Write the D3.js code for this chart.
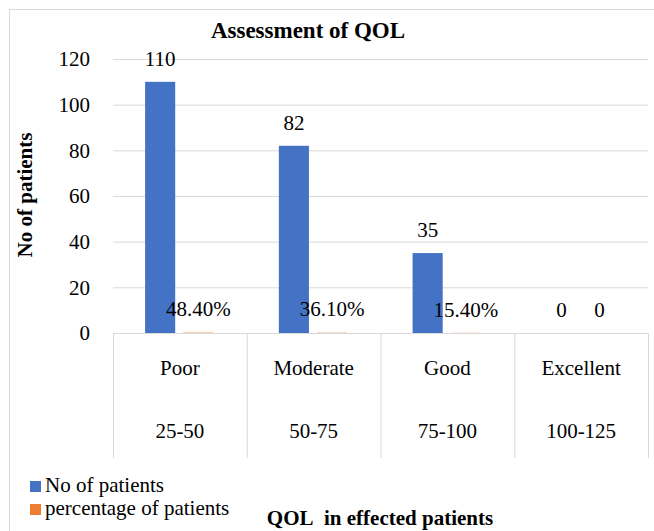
<!DOCTYPE html>
<html>
<head>
<meta charset="utf-8">
<script src="https://cdn.jsdelivr.net/npm/d3@7"></script>
</head>
<body style="margin:0">
<svg id="chart" width="654" height="531" style="display:block"></svg>
<script>
// chart data
const categories = ["Poor", "Moderate", "Good", "Excellent"];
const ranges = ["25-50", "50-75", "75-100", "100-125"];
const patients = [110, 82, 35, 0];
const percentages = [0.484, 0.361, 0.154, 0];
const yTicks = [0, 20, 40, 60, 80, 100, 120];
const seriesNames = ["No of patients", "percentage of patients"];
const seriesColors = ["#4472C4", "#ED7D31"];

const svg = d3.select("#chart").attr("font-family", "Liberation Serif");
const plotLeft = 113, plotRight = 648, plotTop = 59, base = 333;

// outer chart border
svg.append("rect")
  .attr("x", 9.5).attr("y", 9.5)
  .attr("width", 700).attr("height", 600)
  .attr("fill", "none").attr("stroke", "#d9d9d9");

const x = d3.scaleBand().domain(categories).range([plotLeft, plotRight]);
const bw = x.bandwidth();
const x1 = d3.scaleBand().domain(seriesNames)
  .range([bw * 0.24, bw * 0.75]).paddingInner(0.21);
const y = d3.scaleLinear().domain([0, 120]).range([base, plotTop]);

// gridlines + y labels
const yAxis = svg.append("g")
  .attr("transform", `translate(${plotLeft},0)`)
  .call(d3.axisLeft(y).tickValues(yTicks).tickSize(-(plotRight - plotLeft)).tickPadding(23));
yAxis.attr("font-family", "Liberation Serif");
yAxis.select(".domain").remove();
yAxis.selectAll("line").attr("stroke", "#d9d9d9");
yAxis.selectAll("text").attr("font-size", 21).attr("fill", "#000");

// bars
const rows = categories.map((c, i) => ({cat: c, vals: [patients[i], percentages[i]]}));
const groups = svg.selectAll("g.grp").data(rows).enter().append("g")
  .attr("class", "grp")
  .attr("transform", d => `translate(${x(d.cat)},0)`);

groups.selectAll("rect").data(d => d.vals.map((v, k) => ({v, k}))).enter().append("rect")
  .attr("x", d => x1(seriesNames[d.k]))
  .attr("width", x1.bandwidth())
  .attr("y", d => y(d.v))
  .attr("height", d => base - y(d.v))
  .attr("fill", d => seriesColors[d.k])
  .attr("fill-opacity", d => d.k === 1 ? 0.35 : 1);

// data labels
const pctFmt = d3.format(".2%");
groups.selectAll("text").data(d => d.vals.map((v, k) => ({v, k}))).enter().append("text")
  .attr("x", d => x1(seriesNames[d.k]) + x1.bandwidth() / 2)
  .attr("y", d => y(d.v) - 16)
  .attr("text-anchor", "middle")
  .attr("font-size", 21)
  .text(d => d.v === 0 ? "0" : (d.k === 0 ? d.v : pctFmt(d.v)));

// multi-level category axis
const sep = categories.map(c => x(c)).concat([plotRight]);
svg.selectAll("line.sep").data(sep).enter().append("line")
  .attr("class", "sep")
  .attr("x1", d => d + 0.5).attr("x2", d => d + 0.5)
  .attr("y1", base).attr("y2", 458)
  .attr("stroke", "#d9d9d9");

svg.selectAll("text.cat").data(categories).enter().append("text")
  .attr("class", "cat")
  .attr("x", d => x(d) + bw / 2).attr("y", 375)
  .attr("text-anchor", "middle").attr("font-size", 21)
  .text(d => d);

svg.selectAll("text.rng").data(ranges).enter().append("text")
  .attr("class", "rng")
  .attr("x", (d, i) => x(categories[i]) + bw / 2).attr("y", 438)
  .attr("text-anchor", "middle").attr("font-size", 21)
  .text(d => d);

// titles
svg.append("text")
  .attr("x", 308).attr("y", 38)
  .attr("text-anchor", "middle").attr("font-size", 23).attr("font-weight", "bold")
  .text("Assessment of QOL");

svg.append("text")
  .attr("transform", "translate(32,195) rotate(-90)")
  .attr("text-anchor", "middle").attr("font-size", 21).attr("font-weight", "bold")
  .text("No of patients");

svg.append("text")
  .attr("x", 380).attr("y", 525)
  .attr("text-anchor", "middle").attr("font-size", 21).attr("font-weight", "bold")
  .attr("xml:space", "preserve")
  .text("QOL\u00a0 in effected patients");

// legend
const legend = svg.selectAll("g.leg").data(seriesNames).enter().append("g")
  .attr("class", "leg")
  .attr("transform", (d, i) => `translate(30,${481 + i * 23})`);
legend.append("rect").attr("width", 11).attr("height", 11)
  .attr("fill", (d, i) => seriesColors[i]);
legend.append("text").attr("x", 15).attr("y", 11)
  .attr("font-size", 21)
  .text(d => d);

svg.selectAll("text").style("font-family", "Liberation Serif");
</script>
</body>
</html>
